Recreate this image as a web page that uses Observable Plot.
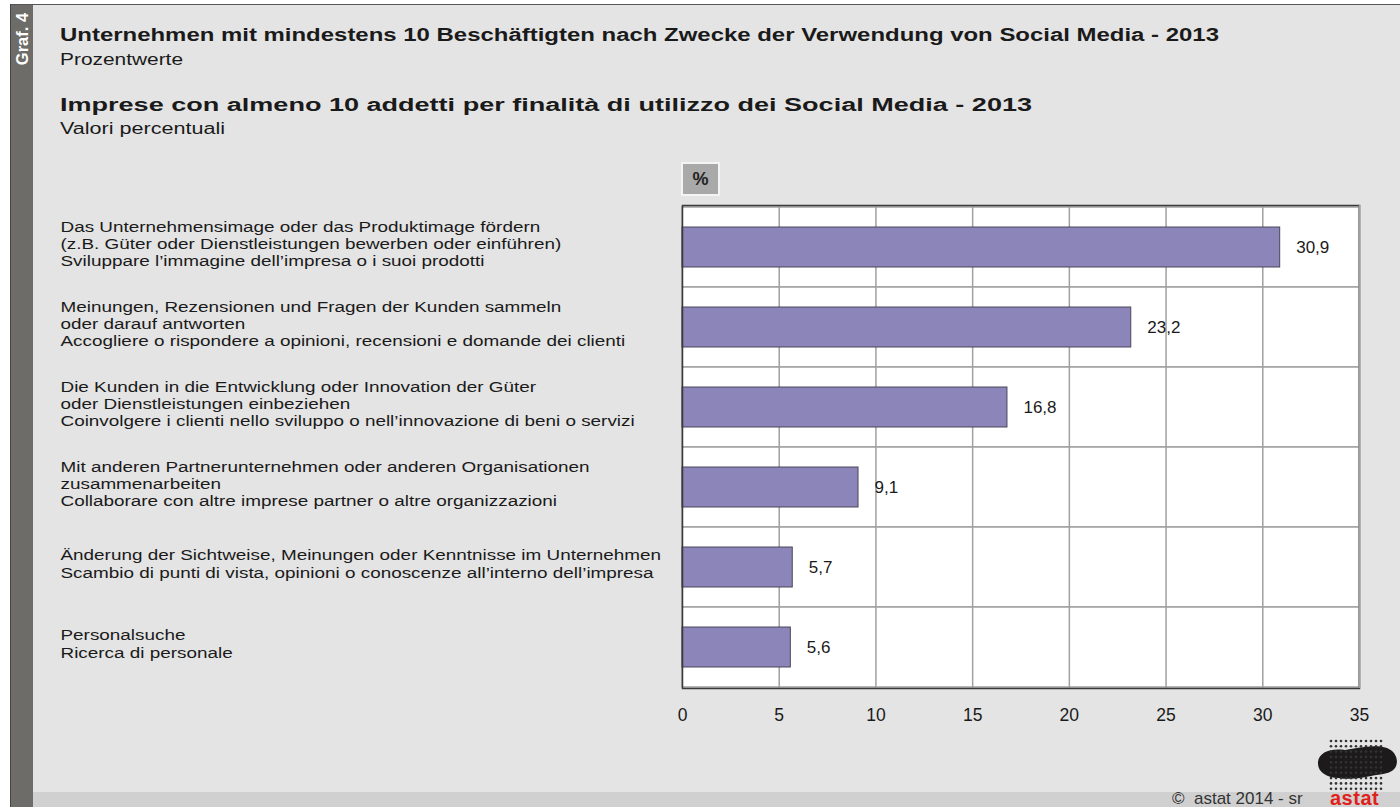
<!DOCTYPE html>
<html>
<head>
<meta charset="utf-8">
<script src="https://cdn.jsdelivr.net/npm/d3@7"></script>
<script src="https://cdn.jsdelivr.net/npm/@observablehq/plot@0.6"></script>
<style>
  html, body { margin: 0; padding: 0; background: #ffffff; }
  body { width: 1400px; height: 807px; position: relative; overflow: hidden; font-family: "Liberation Sans", Arial, sans-serif; color: #1a1a1a; }
  #panel { position: absolute; left: 10px; top: 4px; width: 1390px; height: 803px; background: #e4e4e4; border-left: 1px solid #444; border-top: 1px solid #555; box-sizing: border-box; }
  #side { position: absolute; left: 11px; top: 5px; width: 22px; height: 802px; background: #6e6c69; }
  #graf { position: absolute; left: 22px; top: 39px; transform: translate(-50%, -50%) rotate(-90deg); color: #fff; font-weight: bold; font-size: 16.5px; white-space: nowrap; }
  #foot { position: absolute; left: 33px; top: 792px; width: 1367px; height: 15px; background: #d0d0d0; }
  .t { position: absolute; left: 60px; white-space: nowrap; transform-origin: left center; }
  .h { font-weight: bold; font-size: 17.5px; }
  .s { font-size: 16px; }
  #pct { position: absolute; left: 681px; top: 162px; width: 35px; height: 30px; background: #a9a9a9; border: 2px solid #f4f4f4; font-weight: bold; font-size: 18px; text-align: center; line-height: 30px; color: #222; }
  #chart { position: absolute; left: 0; top: 150px; }
  #copy { position: absolute; left: 1172px; top: 790px; font-size: 17px; line-height: 17px; color: #333; white-space: nowrap; }
  #logoText { position: absolute; left: 1330px; top: 788px; font-size: 20px; line-height: 20px; font-weight: bold; color: #e0201b; letter-spacing: 0.5px; }
  #logo { position: absolute; left: 1315px; top: 738px; }
</style>
</head>
<body>
<div id="panel"></div>
<div id="side"></div>
<div id="graf">Graf. 4</div>
<div id="foot"></div>
<div class="t h" style="top:25px" data-w="1159">Unternehmen mit mindestens 10 Beschäftigten nach Zwecke der Verwendung von Social Media - 2013</div>
<div class="t s" style="top:51px" data-w="123">Prozentwerte</div>
<div class="t h" style="top:95px" data-w="972">Imprese con almeno 10 addetti per finalità di utilizzo dei Social Media - 2013</div>
<div class="t s" style="top:120px" data-w="165">Valori percentuali</div>
<div id="chart"></div>
<div id="pct">%</div>
<div id="copy">©&nbsp; astat 2014 - sr</div>
<svg id="logo" width="85" height="56"></svg>
<div id="logoText">astat</div>
<script>
// ---- data ----
const categories = [
  "Das Unternehmensimage oder das Produktimage fördern\n(z.B. Güter oder Dienstleistungen bewerben oder einführen)\nSviluppare l’immagine dell’impresa o i suoi prodotti",
  "Meinungen, Rezensionen und Fragen der Kunden sammeln\noder darauf antworten\nAccogliere o rispondere a opinioni, recensioni e domande dei clienti",
  "Die Kunden in die Entwicklung oder Innovation der Güter\noder Dienstleistungen einbeziehen\nCoinvolgere i clienti nello sviluppo o nell’innovazione di beni o servizi",
  "Mit anderen Partnerunternehmen oder anderen Organisationen\nzusammenarbeiten\nCollaborare con altre imprese partner o altre organizzazioni",
  "Änderung der Sichtweise, Meinungen oder Kenntnisse im Unternehmen\nScambio di punti di vista, opinioni o conoscenze all’interno dell’impresa",
  "Personalsuche\nRicerca di personale"
];
const values = [30.9, 23.2, 16.8, 9.1, 5.7, 5.6];
const xTicks = [0, 5, 10, 15, 20, 25, 30, 35];
const gridTicks = [5, 10, 15, 20, 25, 30];

const data = categories.map((c, i) => ({cat: c, value: values[i]}));
const fmt = v => v.toFixed(1).replace(".", ",");

const chart = Plot.plot({
  width: 1400,
  height: 590,
  marginTop: 55,
  marginBottom: 52,
  marginLeft: 682,
  marginRight: 41,
  style: {background: "transparent", fontFamily: "'Liberation Sans', Arial, sans-serif", color: "#1a1a1a"},
  x: {domain: [0, 35], label: null},
  y: {domain: categories, padding: 0, axis: null},
  marks: [
    Plot.barX(data, {y: "cat", x1: 0, x2: 35, fill: "#ffffff", stroke: "#a0a0a0", strokeWidth: 1.5}),
    Plot.ruleX(gridTicks, {stroke: "#a0a0a0", strokeWidth: 1.5}),
    Plot.barX(data, {y: "cat", x: "value", fill: "#8c85b9", stroke: "#4a4658", strokeWidth: 1, insetTop: 20, insetBottom: 20}),
    Plot.text(data, {y: "cat", x: "value", text: d => fmt(d.value), dx: 16, textAnchor: "start", fontSize: 17, fill: "#1a1a1a"}),
    Plot.text(data, {y: "cat", x: 0, text: "cat", dx: -622, dy: -4, textAnchor: "start", lineAnchor: "middle", lineHeight: 1.15, fontSize: 15, fill: "#1a1a1a"}),
    Plot.frame({stroke: "#3a3a3a", strokeWidth: 1.5}),
    Plot.ruleX([35], {stroke: "#a0a0a0", strokeWidth: 1.5}),
    Plot.axisX({ticks: xTicks, tickSize: 0, tickPadding: 20, fontSize: 17.5, tickFormat: d => String(d), label: null})
  ]
});
document.getElementById("chart").appendChild(chart);

// widen the left-hand category labels horizontally to match the reference typography
const labelScale = 1.26;
chart.querySelectorAll("text").forEach(t => {
  if (t.textContent.length > 12) {
    const g = document.createElementNS("http://www.w3.org/2000/svg", "g");
    t.parentNode.insertBefore(g, t);
    g.appendChild(t);
    const bb = g.getBBox();   // includes the text's own translate
    g.setAttribute("transform", `translate(${bb.x},0) scale(${labelScale},1) translate(${-bb.x},0)`);
  }
});

// stretch title lines to their reference widths
document.querySelectorAll(".t").forEach(el => {
  const w = el.getBoundingClientRect().width;
  const target = +el.dataset.w;
  el.style.transform = `scaleX(${target / w})`;
});

// decorative logo (dotted map shape)
const logo = d3.select("#logo");
logo.append("path")
  .attr("d", "M3,24 C4,14 16,10 30,12 C44,10 60,6 72,10 C82,14 84,24 80,30 C76,36 66,36 56,38 C46,40 34,42 24,40 C12,40 2,34 3,24 Z")
  .attr("fill", "#1c1a1a");
for (let r = 0; r < 10; r++) {
  for (let c = 0; c < 11; c++) {
    logo.append("circle").attr("cx", 16 + c * 5).attr("cy", 3 + r * 5.3).attr("r", 1.3).attr("fill", "#333");
  }
}
</script>
</body>
</html>
